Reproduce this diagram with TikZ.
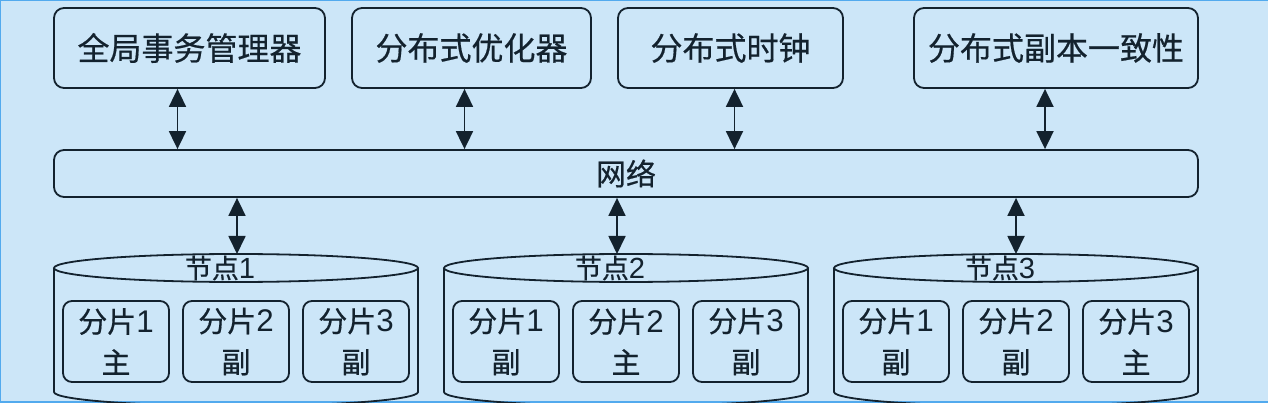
\documentclass[tikz,border=0pt]{standalone}
\usepackage{fontspec}
\setmainfont{Noto Sans CJK SC}[RawFeature={embolden=0.5}]
\newfontfamily\dig{Liberation Sans}[Scale=1.08]
\usetikzlibrary{arrows.meta}
\definecolor{bgblue}{HTML}{CCE6F8}
\definecolor{frameblue}{HTML}{52AAEE}
\definecolor{ink}{HTML}{13222E}

\begin{document}
\begin{tikzpicture}[x=1pt,y=-1pt]
        \tikzset{box/.style={draw=ink, text=ink, rounded corners=10pt, line width=1.8pt, inner sep=0pt},
                 top/.style={box, minimum height=80pt, font=\fontsize{32}{36}\selectfont},
                 shard/.style={box, rounded corners=9pt, minimum width=106pt, minimum height=81pt, align=center, font=\fontsize{29}{41}\selectfont},
                 link/.style={draw=ink, line width=1.8pt, {Triangle[length=18pt,width=17pt]}-{Triangle[length=18pt,width=17pt]}},
                 cyl/.style={draw=ink, line width=1.8pt}}
        \useasboundingbox (0,0) rectangle (1268,403);
        \clip (0,0) rectangle (1268,403);
        \draw [frameblue, fill=bgblue, line width=2.5pt] (0,0) rectangle (1290,402);
        \node [top, minimum width=271pt] (gtm) at (189.5,48) {全局事务管理器};
        \node [top, minimum width=239pt] (opt) at (471.5,48) {分布式优化器};
        \node [top, minimum width=225pt] (clk) at (730.5,48) {分布式时钟};
        \node [top, minimum width=284pt] (rep) at (1056,48) {分布式副本一致性};
        \node [box, minimum width=1144pt, minimum height=47pt, font=\fontsize{30}{34}\selectfont] (net) at (626,173.5) {网络};
        \draw [link] ([xshift=-12]gtm.south) -- ([xshift=-12]gtm.south |- net.north);
        \draw [link] ([xshift=-7]opt.south) -- ([xshift=-7]opt.south |- net.north);
        \draw [link] ([xshift=4]clk.south) -- ([xshift=4]clk.south |- net.north);
        \draw [link] ([xshift=-11]rep.south) -- ([xshift=-11]rep.south |- net.north);
        % nodes with their shards
        \foreach \cx/\ax/\n/\a/\b/\c in {236/237/1/主/副/副, 626/617/2/副/主/副, 1016/1016/3/副/副/主} {
            \draw [cyl] (\cx-182,268) -- (\cx-182,392) arc [start angle=180, end angle=0, x radius=182, y radius=14] -- (\cx+182,268);
            \draw [cyl] (\cx,268) ellipse [x radius=182, y radius=14];
            \coordinate (top\n) at (\ax,254);
            \node [text=ink, inner sep=0pt, font=\fontsize{27}{30}\selectfont] (lbl\n) at (\cx-16,268) {节点{\dig\n}};
            \node [shard] (s\n1) at (\cx-120,341.5) {分片{\dig 1}\\\a};
            \node [shard] (s\n2) at (\cx,341.5) {分片{\dig 2}\\\b};
            \node [shard] (s\n3) at (\cx+120,341.5) {分片{\dig 3}\\\c};
            \draw [link] (net.south -| top\n) -- (top\n);
        }
    \end{tikzpicture}
\end{document}
